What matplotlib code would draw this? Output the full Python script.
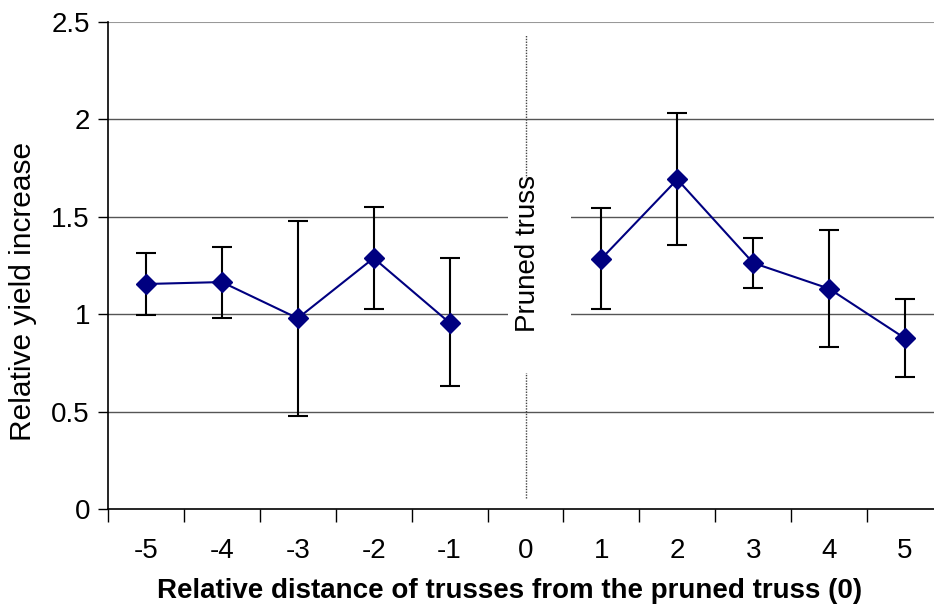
import numpy as np
import matplotlib.pyplot as plt
from matplotlib.patches import Rectangle

# distance of the truss from the pruned one (0 = pruned truss, no value)
distancias = [-5, -4, -3, -2, -1, 0, 1, 2, 3, 4, 5]
rendimiento = [1.155, 1.165, 0.979, 1.288, 0.956, np.nan, 1.285, 1.692, 1.263, 1.131, 0.876]
error_inf = [0.996, 0.980, 0.479, 1.028, 0.631, np.nan, 1.025, 1.354, 1.133, 0.833, 0.676]
error_sup = [1.314, 1.345, 1.480, 1.552, 1.288, np.nan, 1.545, 2.031, 1.393, 1.431, 1.076]

plt.rcParams['font.family'] = ['Liberation Sans', 'DejaVu Sans']

fig = plt.figure(figsize=(9.34, 6.07), dpi=100)
# plot area runs past the right edge, as in the original
ax = fig.add_axes([108 / 934, 98 / 607, 835 / 934, 487 / 607])

x = np.arange(len(distancias))
y = np.array(rendimiento)
err = [y - np.array(error_inf), np.array(error_sup) - y]

# grid lines
for g in [0.5, 1, 1.5, 2]:
    ax.axhline(g, color='#555555', lw=1, zorder=1)
ax.axhline(2.5, color='#999999', lw=1.5, zorder=1)

ax.errorbar(x, y, yerr=err, fmt='none', ecolor='black', elinewidth=1.5,
            capsize=7.5, capthick=1.5, zorder=3)
ax.plot(x, y, color='#000080', lw=1.5, marker='D', markersize=10.5, zorder=4)

# pruned truss marker
ax.axvline(5, ymin=0.023, ymax=0.973, color='#444444', lw=1, ls=(0, (1, 1)), zorder=2)
ax.add_patch(Rectangle((4.77, 0.70), 0.83, 1.0, facecolor='white', edgecolor='none', zorder=2.5))
ax.text(5.03, 1.31, 'Pruned truss', rotation=90, ha='center', va='center',
        fontsize=20, zorder=5)

ax.set_xlim(-0.5, 10.5)
ax.set_ylim(0, 2.5)
ax.set_yticks([0, 0.5, 1, 1.5, 2, 2.5])
ax.set_yticklabels(['0', '0.5', '1', '1.5', '2', '2.5'], fontsize=20)
ax.set_xticks(np.arange(-0.5, 10.5, 1))
ax.set_xticklabels([])
ax.set_xticks(x, minor=True)
ax.set_xticklabels([str(d) for d in distancias], minor=True, fontsize=20)
ax.tick_params(axis='x', which='major', length=9, width=1, direction='out')
ax.tick_params(axis='x', which='minor', length=0, pad=21)
ax.tick_params(axis='y', length=7, width=1, pad=6)

for lado in ['top', 'right']:
    ax.spines[lado].set_visible(False)
ax.spines['left'].set_linewidth(1.2)
ax.spines['bottom'].set_linewidth(1.2)

fig.text(23 / 934, 1 - 291 / 607, 'Relative yield increase', rotation=90,
         ha='center', va='center', fontsize=21.5)
fig.text(510 / 934, 1 - 591 / 607, 'Relative distance of trusses from the pruned truss (0)',
         ha='center', va='center', fontsize=20, fontweight='bold')

fig.savefig('out.png', dpi=100)
